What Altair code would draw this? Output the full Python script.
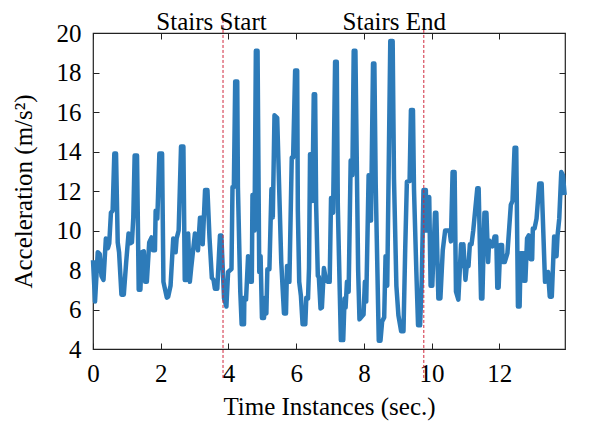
import altair as alt
import pandas as pd

# ---- data ----
time_s = [0.00, 0.06, 0.14, 0.20, 0.25, 0.31, 0.38, 0.44, 0.48, 0.53, 0.58, 0.63, 0.68, 0.73, 0.77,
          0.84, 0.91, 0.98, 1.05, 1.10, 1.15, 1.19, 1.23, 1.30, 1.35, 1.40, 1.44, 1.50, 1.54, 1.59,
          1.66, 1.73, 1.77, 1.83, 1.85, 1.90, 1.96, 2.04, 2.08, 2.18, 2.22, 2.29, 2.37, 2.44, 2.47,
          2.53, 2.60, 2.67, 2.71, 2.76, 2.81, 2.86, 2.90, 3.01, 3.10, 3.16, 3.21, 3.24, 3.31, 3.38,
          3.44, 3.51, 3.56, 3.60, 3.67, 3.75, 3.79, 3.87, 3.94, 3.99, 4.09, 4.12, 4.16, 4.20, 4.26,
          4.28, 4.35, 4.39, 4.46, 4.47, 4.52, 4.58, 4.62, 4.65, 4.69, 4.71, 4.74, 4.77, 4.81, 4.86,
          4.91, 4.95, 4.99, 5.05, 5.09, 5.12, 5.15, 5.21, 5.27, 5.31, 5.36, 5.44, 5.56, 5.64, 5.70,
          5.73, 5.76, 5.80, 5.87, 5.91, 5.97, 6.03, 6.05, 6.09, 6.14, 6.19, 6.27, 6.30, 6.35, 6.38,
          6.41, 6.45, 6.48, 6.52, 6.56, 6.59, 6.64, 6.67, 6.72, 6.76, 6.82, 6.88, 6.94, 6.99, 7.03,
          7.09, 7.15, 7.20, 7.23, 7.32, 7.39, 7.43, 7.46, 7.50, 7.55, 7.61, 7.66, 7.70, 7.75, 7.83,
          7.87, 7.99, 8.03, 8.07, 8.14, 8.21, 8.27, 8.31, 8.35, 8.44, 8.49, 8.54, 8.60, 8.64, 8.69,
          8.78, 8.85, 8.89, 8.96, 9.02, 9.10, 9.17, 9.22, 9.27, 9.35, 9.39, 9.45, 9.48, 9.55, 9.60,
          9.66, 9.71, 9.76, 9.83, 9.85, 9.93, 9.97, 10.02, 10.10, 10.14, 10.20, 10.26, 10.33, 10.40,
          10.53, 10.57, 10.62, 10.68, 10.72, 10.79, 10.87, 10.92, 10.94, 11.00, 11.05, 11.09, 11.13,
          11.18, 11.23, 11.35, 11.39, 11.46, 11.50, 11.56, 11.62, 11.67, 11.70, 11.80, 11.86, 11.91,
          11.94, 11.98, 12.03, 12.08, 12.10, 12.16, 12.24, 12.34, 12.39, 12.45, 12.50, 12.55, 12.60,
          12.63, 12.71, 12.73, 12.77, 12.82, 12.87, 12.92, 12.97, 12.99, 13.04, 13.10, 13.18, 13.25,
          13.35, 13.44, 13.49, 13.55, 13.62, 13.69, 13.72, 13.77, 13.83, 13.88, 13.93]

accel = [8.5, 6.4, 8.9, 8.8, 7.7, 7.5, 9.6, 9.1, 9.35, 10.9, 11.0, 13.9, 13.9, 9.4, 8.9,
         6.75, 6.75, 8.4, 9.85, 9.35, 9.4, 10.65, 13.8, 13.8, 7.0, 7.0, 8.9, 8.95, 7.4, 7.4,
         9.4, 9.65, 9.0, 9.0, 11.0, 10.6, 13.9, 13.9, 7.4, 6.6, 6.65, 7.2, 9.6, 8.9, 9.6,
         10.0, 14.25, 14.25, 7.5, 7.5, 9.85, 7.4, 8.1, 9.85, 9.0, 10.65, 10.65, 9.3, 12.05, 12.05,
         9.65, 7.6, 7.5, 7.05, 7.05, 9.75, 9.75, 6.56, 6.15, 7.9, 8.05, 12.2, 12.2, 17.55, 17.55,
         12.2, 6.9, 5.25, 5.25, 6.6, 6.5, 8.7, 8.6, 7.4, 7.4, 11.8, 11.7, 10.0, 19.1, 19.1,
         7.9, 8.7, 5.57, 5.57, 6.6, 5.8, 8.04, 8.04, 12.1, 10.66, 15.83, 15.7, 8.4, 5.8, 5.8,
         8.2, 7.4, 7.4, 13.7, 13.7, 18.1, 18.1, 11.0, 7.4, 6.7, 5.25, 5.25, 6.6, 6.56, 8.1,
         13.86, 13.86, 11.5, 16.9, 16.9, 11.3, 7.7, 7.65, 6.05, 6.1, 8.1, 7.5, 7.4, 7.4, 11.65,
         10.9, 18.54, 18.54, 11.3, 4.45, 4.45, 6.56, 6.1, 7.4, 6.9, 13.54, 12.8, 19.1, 19.1, 8.04,
         5.5, 5.74, 7.4, 6.4, 12.8, 10.5, 18.46, 18.46, 12.3, 4.42, 4.42, 5.4, 5.6, 8.7, 7.2,
         19.6, 19.6, 12.6, 7.2, 5.7, 4.9, 4.9, 9.0, 12.47, 12.5, 16.1, 16.1, 12.1, 7.9, 5.2,
         5.2, 7.55, 12.05, 12.05, 10.0, 11.7, 7.2, 7.2, 10.9, 10.9, 6.56, 6.56, 9.0, 10.0,
         10.0, 9.45, 12.96, 12.96, 6.9, 6.5, 9.3, 8.2, 9.3, 7.5, 8.4, 8.2, 9.3,
         9.3, 10.0, 12.14, 12.14, 6.56, 6.56, 10.9, 10.9, 8.4, 9.5, 9.2, 9.7, 9.7,
         7.1, 7.1, 9.27, 9.27, 8.4, 8.4, 8.85, 11.3, 11.5, 14.19, 14.19, 6.15, 6.15,
         8.85, 8.85, 7.45, 7.45, 9.6, 9.75, 8.55, 8.55, 10.1, 10.1, 10.6, 12.38, 12.38,
         7.4, 7.9, 6.65, 6.65, 9.7, 8.7, 9.75, 10.6, 12.96, 12.8, 11.8]

event_times = [3.84, 9.77]
event_labels = ["Stairs Start", "Stairs End"]
label_times = [3.5, 8.9]
label_level = [20.13, 20.13]
rule_top = [20.66, 20.66]
rule_bottom = [2.43, 2.43]

x_ticks = [0, 2, 4, 6, 8, 10, 12]
y_ticks = [4, 6, 8, 10, 12, 14, 16, 18, 20]
x_domain = [0, 13.94]
y_domain = [4, 20]

# ---- chart ----
W, H = 472, 316
FONT = "Liberation Serif"
FRAME = "#222222"
LINE_COLOR = "#2D7BB9"
RULE_COLOR = "#D0253A"

xscale = alt.Scale(domain=x_domain, nice=False, zero=False)
yscale = alt.Scale(domain=y_domain, nice=False, zero=False)

line_df = pd.DataFrame({"t": time_s, "a": accel})
rule_df = pd.DataFrame({"t": event_times, "top": rule_top, "bot": rule_bottom})
text_df = pd.DataFrame({"t": label_times, "y": label_level, "label": event_labels})

line = alt.Chart(line_df).mark_line(color=LINE_COLOR, strokeWidth=4.5, strokeJoin="round").encode(
    x=alt.X("t:Q", scale=xscale,
            axis=alt.Axis(orient="bottom", values=x_ticks, title="Time Instances (sec.)",
                          ticks=False, domain=False, grid=False, labelFlush=False,
                          labelPadding=12, titlePadding=8)),
    y=alt.Y("a:Q", scale=yscale,
            axis=alt.Axis(orient="left", values=y_ticks, title="Acceleration (m/s²)",
                          ticks=False, domain=False, grid=False,
                          labelPadding=12, titlePadding=20)),
)

tick_axis = dict(ticks=True, tickSize=6, tickWidth=1, tickColor=FRAME,
                 labels=False, domain=False, grid=False, title=None)

rules = alt.Chart(rule_df).mark_rule(color=RULE_COLOR, strokeWidth=1, strokeDash=[3, 2]).encode(
    x=alt.X("t:Q", scale=xscale,
            axis=alt.Axis(orient="top", offset=-H, values=x_ticks, **tick_axis)),
    y=alt.Y("top:Q", scale=yscale,
            axis=alt.Axis(orient="right", offset=-W, values=y_ticks, **tick_axis)),
    y2="bot:Q",
)

labels = alt.Chart(text_df).mark_text(font=FONT, fontSize=25, color="black",
                                      align="center", baseline="alphabetic").encode(
    x=alt.X("t:Q", scale=xscale,
            axis=alt.Axis(orient="bottom", offset=-H, values=x_ticks, **tick_axis)),
    y=alt.Y("y:Q", scale=yscale,
            axis=alt.Axis(orient="left", offset=-W, values=y_ticks, **tick_axis)),
    text="label:N",
)

chart = alt.layer(line, rules, labels).resolve_axis(x="independent", y="independent").properties(
    width=W, height=H,
    padding={"left": 85, "top": 25, "right": 32, "bottom": 73},
    autosize=alt.AutoSizeParams(type="none"),
).configure_view(
    stroke=FRAME, strokeWidth=1.2
).configure_axis(
    labelFont=FONT, titleFont=FONT, labelFontSize=25, titleFontSize=25,
    labelColor="black", titleColor="black", titleFontWeight="normal",
)

chart.save("out.html", embed_options={"renderer": "svg", "actions": False})
